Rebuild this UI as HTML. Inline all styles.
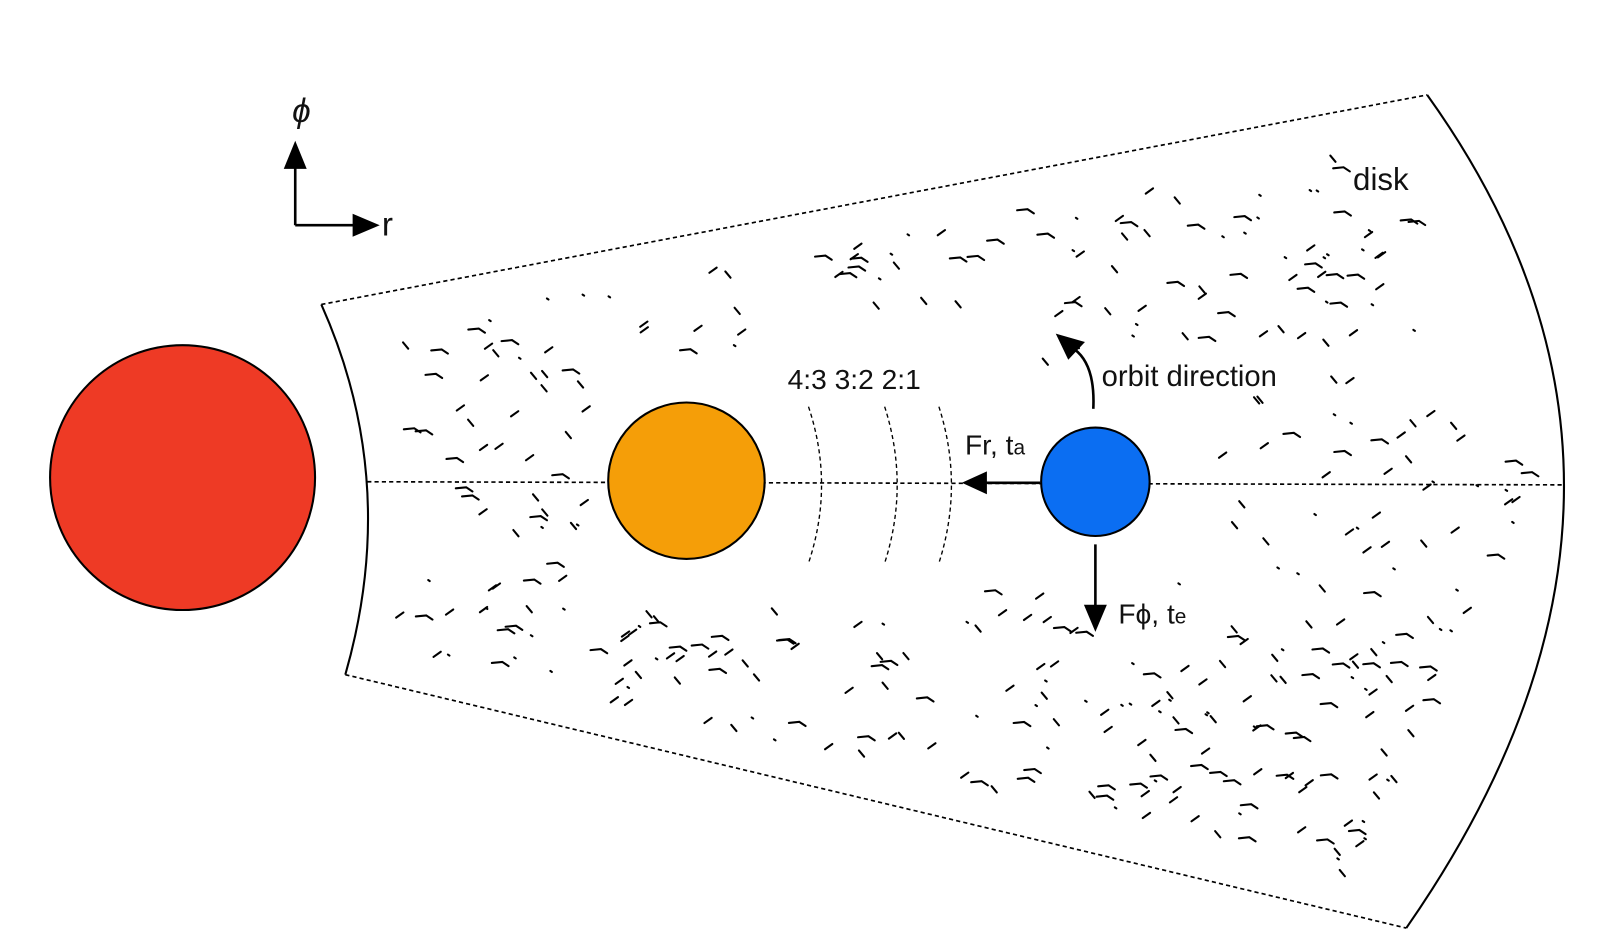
<!DOCTYPE html>
<html><head><meta charset="utf-8"><style>
html,body{margin:0;padding:0;background:#fff;}
svg{display:block;}
text{font-family:"Liberation Sans",sans-serif;fill:#111;}
</style></head><body>
<svg id="s" width="1617" height="951" viewBox="0 0 1550 912" preserveAspectRatio="none">
<g id="marks" stroke="#000" stroke-width="2" fill="none" stroke-linecap="round"></g>
<circle cx="175" cy="458" r="127" fill="#ee3a25" stroke="#000" stroke-width="2"/>
<path d="M308,292 Q384,462 331,647" fill="none" stroke="#000" stroke-width="2"/>
<path d="M1368,91 Q1640,470 1348,890" fill="none" stroke="#000" stroke-width="2"/>
<line x1="308" y1="292" x2="1368" y2="91" stroke="#000" stroke-width="1.6" stroke-dasharray="4,3"/>
<line x1="331" y1="647" x2="1348" y2="890" stroke="#000" stroke-width="1.6" stroke-dasharray="4,3"/>
<line x1="352" y1="462" x2="1500" y2="465" stroke="#000" stroke-width="1.6" stroke-dasharray="4,3"/>
<g fill="none" stroke="#000" stroke-width="1.3" stroke-dasharray="4,3">
<path d="M775,390 Q800,465 775,540"/>
<path d="M848,390 Q872,465 848,540"/>
<path d="M900,390 Q924,465 900,540"/>
</g>
<circle cx="658" cy="461" r="75" fill="#f59e08" stroke="#000" stroke-width="2"/>
<circle cx="1050" cy="462" r="52" fill="#0b6ef2" stroke="#000" stroke-width="2"/>
<line x1="997" y1="463" x2="942" y2="463" stroke="#000" stroke-width="2.5"/>
<path d="M922,463L946,452L946,474z" fill="#000"/>
<line x1="1050" y1="522" x2="1050" y2="585" stroke="#000" stroke-width="2.5"/>
<path d="M1050,606L1039,580L1061,580z" fill="#000"/>
<path d="M1048,392 Q1050,350 1030,335" fill="none" stroke="#000" stroke-width="2.5"/>
<path d="M1012,320L1040,328L1024,345z" fill="#000"/>
<line x1="283" y1="216" x2="283" y2="158" stroke="#000" stroke-width="2.5"/>
<path d="M283,135L272,162L294,162z" fill="#000"/>
<line x1="283" y1="216" x2="342" y2="216" stroke="#000" stroke-width="2.5"/>
<path d="M364,216L338,205L338,227z" fill="#000"/>
<text x="280" y="117" font-size="32" font-style="italic">ϕ</text>
<text x="366" y="226" font-size="32">r</text>
<text x="1297" y="182" font-size="30">disk</text>
<text x="755" y="373" font-size="27">4:3  3:2  2:1</text>
<text x="1056" y="370" font-size="28">orbit  direction</text>
<text x="925" y="436" font-size="27">Fr, t<tspan font-size="20">a</tspan></text>
<text x="1072" y="598" font-size="27">Fϕ, t<tspan font-size="20">e</tspan></text>
</svg>
<script>
(function(){
var g=document.getElementById('marks');var seed=7;
function r(){seed=(seed*16807)%2147483647;return seed/2147483647;}
var out='';var n=0,tries=0;
while(n<380&&tries<20000){tries++;
var x=385+r()*1090,y=100+r()*790;
var t=(x-308)/(1368-308);var top=292+(91-292)*t+35;var bot=647+(890-647)*((x-331)/(1348-331))-35;
if(y<top||y>bot)continue;
if(x>1470-Math.abs(y-465)*0.45)continue;
if(x>575&&x<1175&&Math.abs(y-462)<(x<900?120:95))continue;
if(x>720&&x<1000&&y>300&&y<560)continue;
if(x>1040&&x<1265&&y>330&&y<385)continue;
if(x>1040&&x<1170&&y>560&&y<615)continue;
if(x>1285&&x<1370&&y>150&&y<195)continue;
var k=r();
if(k<0.35)out+='<path d="M'+x+','+y+'l-7,5"/>';
else if(k<0.6)out+='<path d="M'+x+','+y+'l10,-1l6,4"/>';
else if(k<0.8)out+='<path d="M'+x+','+y+'l-5,-6"/>';
else out+='<path d="M'+x+','+y+'l1.5,1"/>';
n++;}
g.innerHTML=out;})();
</script>
</body></html>
